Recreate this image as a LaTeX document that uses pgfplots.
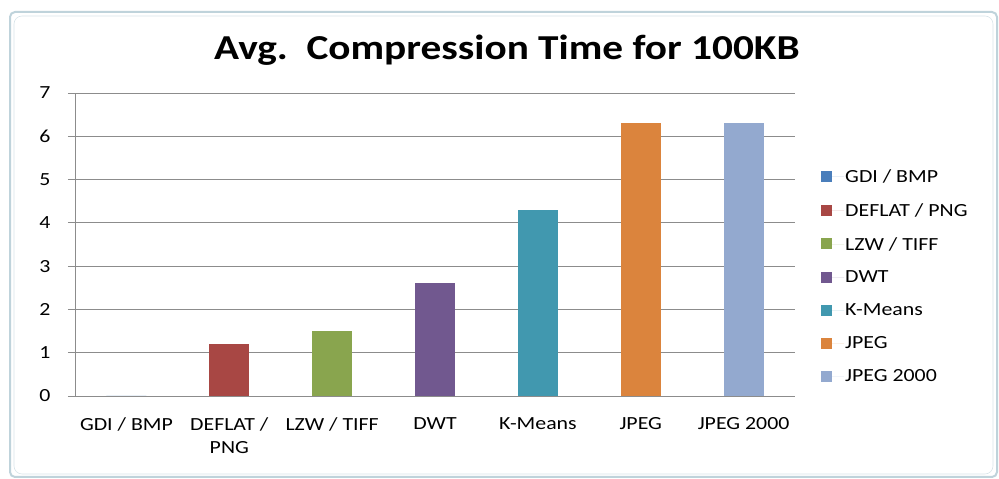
\documentclass[border=0pt]{standalone}
\usepackage{fontspec}
\setmainfont{Carlito}[FakeStretch=1.18]
\usepackage{pgfplots}
\pgfplotsset{compat=1.18}

\definecolor{cGDI}{HTML}{4A7EBB}
\definecolor{cDEF}{HTML}{A84744}
\definecolor{cLZW}{HTML}{89A54E}
\definecolor{cDWT}{HTML}{71588F}
\definecolor{cKM}{HTML}{4198AF}
\definecolor{cJPG}{HTML}{DB843D}
\definecolor{cJ2K}{HTML}{93A9CF}
\definecolor{gridgray}{HTML}{8C8C8C}
\definecolor{framec}{HTML}{BFD3DB}

\begin{document}
\begin{tikzpicture}
\path[use as bounding box] (0pt,0pt) rectangle (999pt,479pt);
% chart frame
\draw[framec, line width=2pt, rounded corners=5pt] (10pt,2pt) rectangle (997pt,467pt);
\draw[framec!60, line width=0.6pt, rounded corners=8pt] (14pt,5pt) rectangle (993pt,463pt);
\begin{axis}[
  at={(75pt,83pt)}, anchor=south west,
  scale only axis, width=720pt, height=303pt,
  xmin=-0.5, xmax=6.5, ymin=0, ymax=7,
  axis lines*=left,
  axis line style={gridgray, line width=0.8pt},
  ybar, bar width=40pt, bar shift=0pt,
  xtick={0,...,6},
  xticklabels={GDI / BMP, DEFLAT /\\PNG, LZW / TIFF, DWT, K-Means, JPEG, JPEG 2000},
  major x tick style={draw=none},
  extra x ticks={-0.5,0.5,1.5,2.5,3.5,4.5,5.5,6.5},
  extra x tick labels={},
  extra x tick style={major tick length=7pt, tick style={gridgray, line width=0.8pt}, grid=none},
  ytick={0,...,7},
  ymajorgrids, grid style={gridgray, line width=0.8pt},
  tick align=outside, major tick length=7pt,
  y tick style={gridgray, line width=0.8pt},
  /pgf/number format/assume math mode=true,
  ticklabel style={font=\fontsize{18.5}{23}\selectfont},
  xticklabel style={align=center, yshift=-11pt},
  yticklabel style={xshift=-14pt},
  title={Avg.\ \ Compression Time for 100KB},
  title style={at={(0.6,1.09)}, anchor=base, font=\bfseries\fontsize{35}{40}\selectfont},
  legend style={at={(1.032,0.758)}, anchor=north west, draw=none, fill=none,
    font=\fontsize{18.5}{20}\selectfont, row sep=17.5pt,
    nodes={inner sep=1pt, anchor=west}},
  legend cell align=left,
  legend image code/.code={\draw[#1, draw=none] (0pt,-5pt) rectangle (11pt,6pt);
    \path (0pt,0pt) -- (23pt,0pt);},
]
\addplot[fill=cGDI, draw=none] coordinates {(0,0)};
\addplot[fill=cDEF, draw=none] coordinates {(1,1.2)};
\addplot[fill=cLZW, draw=none] coordinates {(2,1.5)};
\addplot[fill=cDWT, draw=none] coordinates {(3,2.6)};
\addplot[fill=cKM,  draw=none] coordinates {(4,4.3)};
\addplot[fill=cJPG, draw=none] coordinates {(5,6.3)};
\addplot[fill=cJ2K, draw=none] coordinates {(6,6.3)};
\legend{GDI / BMP, DEFLAT / PNG, LZW / TIFF, DWT, K-Means, JPEG, JPEG 2000}
\end{axis}
\end{tikzpicture}
\end{document}
